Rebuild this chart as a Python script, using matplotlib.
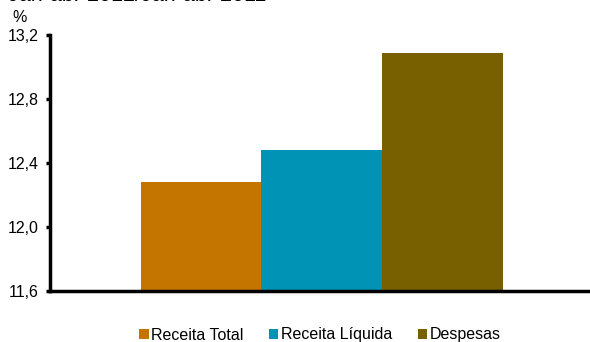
import numpy as np
import matplotlib.pyplot as plt

plt.rcParams['font.family'] = ['Liberation Sans', 'DejaVu Sans']

series = ['Receita Total', 'Receita Líquida', 'Despesas']
values = [12.28, 12.48, 13.09]
colors = ['#C47500', '#0093B5', '#786000']
yticks = [11.6, 12.0, 12.4, 12.8, 13.2]


def main():
    fig = plt.figure(figsize=(5.9, 3.42), dpi=100)
    ax = fig.add_axes([50 / 590, 1 - 291 / 342, 540 / 590, 256 / 342])

    x = np.arange(len(series))
    for i in range(len(series)):
        ax.bar(x[i], values[i] - yticks[0], bottom=yticks[0], width=1.0,
               color=colors[i], label=series[i], linewidth=0)

    ax.set_xlim(-1.248, 3.215)
    ax.set_ylim(yticks[0], yticks[-1])
    ax.set_yticks(yticks)
    ax.set_yticklabels([('%.1f' % v).replace('.', ',') for v in yticks],
                       fontsize=11.5)
    ax.set_xticks([])
    ax.tick_params(axis='y', direction='out', length=3, width=2.5, pad=5)

    for s in ['top', 'right']:
        ax.spines[s].set_visible(False)
    ax.spines['left'].set_linewidth(2.5)
    ax.spines['bottom'].set_linewidth(2.5)

    # title is cut off at the top edge, as in the source picture
    fig.text(8 / 590, 1 - 1 / 342, 'Jan-abr 2012/Jan-abr 2011',
             fontsize=15.5, va='baseline', ha='left')
    fig.text(12 / 590, 1 - 18 / 342, '%', fontsize=11.5, va='center',
             ha='left')

    fig.legend(loc='center', bbox_to_anchor=(0.542, 1 - 335 / 342), ncol=3,
               frameon=False, fontsize=11.5, handlelength=0.6,
               handleheight=0.6, handletextpad=0.15, columnspacing=1.6,
               borderaxespad=0)

    fig.savefig('out.png', dpi=100)


if __name__ == "__main__":
    main()
